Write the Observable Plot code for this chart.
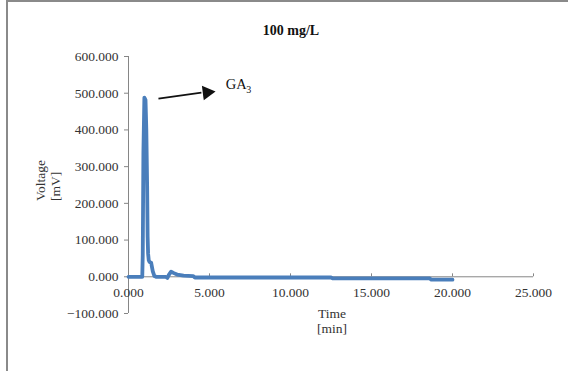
<!DOCTYPE html>
<html>
<head>
<meta charset="utf-8">
<script src="https://cdn.jsdelivr.net/npm/d3@7"></script>
<script src="https://cdn.jsdelivr.net/npm/@observablehq/plot@0.6"></script>
<style>
  html, body { margin: 0; padding: 0; background: #fff; overflow: hidden; }
  #wrap { position: relative; width: 568px; height: 371px; overflow: hidden; }
  #frame { position: absolute; left: 6px; top: 0px; width: 600px; height: 400px; border-left: 2px solid #8a8a8a; border-top: 2px solid #8a8a8a; }
  #chart { position: absolute; left: 0; top: 0; }
</style>
</head>
<body>
<div id="wrap"><div id="frame"></div><div id="chart"></div></div>
<script>
// Data
const time =    [0, 0.85, 0.88, 0.92, 0.98, 1.05, 1.1, 1.15, 1.18, 1.21, 1.25, 1.3, 1.4, 1.5, 1.6, 1.7, 2.3, 2.4, 2.5, 2.63, 2.8, 3.0, 3.4, 4.0, 4.1, 12.5, 12.6, 18.6, 18.7, 20.0];
const voltage = [0, 0,    60,   340,  488,  482,  400, 250,  110,  63,   45,   40,  38,  15,  2,   0,   0,   -3,  6,   14,   10,  6,   3,   2,   -2,  -2,   -4.5, -4.5, -8,   -8];
const xTicks = [0, 5, 10, 15, 20, 25];
const yTicks = [-100, 0, 100, 200, 300, 400, 500, 600];
const title = "100 mg/L";
const xLabel = "Time\n[min]";
const yLabel = "Voltage\n[mV]";
const peakName = "GA";
const peakSub = "3";
const arrowFrom = {x: 1.85, y: 485};
const arrowTo = {x: 4.85, y: 502};
const labelPos = {x: 6.0, y: 524};

const data = time.map((t, i) => ({t, v: voltage[i]}));
const fmt = d3.format(".3f");
const axisGray = "#868686";
const textGray = "#333";
const font = "Liberation Serif, Times New Roman, serif";

const angle = Math.atan2(-(arrowTo.y - arrowFrom.y) * 0.3667, (arrowTo.x - arrowFrom.x) * 16.2) * 180 / Math.PI;

const chart = Plot.plot({
  width: 568,
  height: 371,
  marginLeft: 128,
  marginRight: 35,
  marginTop: 56,
  marginBottom: 58,
  style: {fontFamily: font, fontSize: "13.5px", color: textGray, background: "transparent", overflow: "visible"},
  x: {domain: [0, 25], axis: null},
  y: {domain: [-100, 600], axis: null},
  marks: [
    // y axis
    Plot.ruleX([0], {stroke: axisGray, strokeWidth: 1}),
    Plot.axisY({ticks: yTicks, tickFormat: fmt, tickSize: 4, tickPadding: 6, stroke: axisGray, fill: textGray, fontSize: 13.5, label: null}),
    // x axis at y = 0
    Plot.ruleY([0], {stroke: axisGray, strokeWidth: 1}),
    Plot.ruleX(xTicks, {x: d => d, y1: 0, y2: 8, stroke: axisGray, strokeWidth: 1}),
    Plot.text(xTicks, {x: d => d, y: 0, text: d => fmt(d), dy: 16, fontSize: 13.5, fill: textGray}),
    // data
    Plot.line(data, {x: "t", y: "v", stroke: "#4a7ebb", strokeWidth: 3.8, strokeLinejoin: "round", strokeLinecap: "round"}),
    // annotation arrow
    Plot.link([0], {x1: () => arrowFrom.x, y1: () => arrowFrom.y, x2: () => arrowTo.x - 0.35, y2: () => arrowTo.y - 0.3, stroke: "#111", strokeWidth: 1.8}),
    Plot.dot([0], {x: () => arrowTo.x, y: () => arrowTo.y, symbol: "triangle", r: 5.5, fill: "#111", stroke: "none", rotate: 90 + angle}),
    Plot.text([0], {x: () => labelPos.x, y: () => labelPos.y, text: () => peakName, textAnchor: "start", fontSize: 14.5, fill: "#111"}),
    Plot.text([0], {x: () => labelPos.x, y: () => labelPos.y, text: () => peakSub, textAnchor: "start", fontSize: 10, dx: 20.5, dy: 5, fill: "#111"}),
    // title and axis titles
    Plot.text([title], {frameAnchor: "top", text: d => d, dx: -40, dy: -31, fontSize: 14, fontWeight: "bold", fill: "#111"}),
    Plot.text([yLabel], {frameAnchor: "left", text: d => d, rotate: -90, dx: -81, dy: 16, fontSize: 13.5, lineHeight: 1.1, fill: textGray}),
    Plot.text([xLabel], {frameAnchor: "bottom", text: d => d, dx: 1, dy: 19, fontSize: 13.5, lineHeight: 1.1, fill: textGray})
  ]
});
document.getElementById("chart").appendChild(chart);
</script>
</body>
</html>
